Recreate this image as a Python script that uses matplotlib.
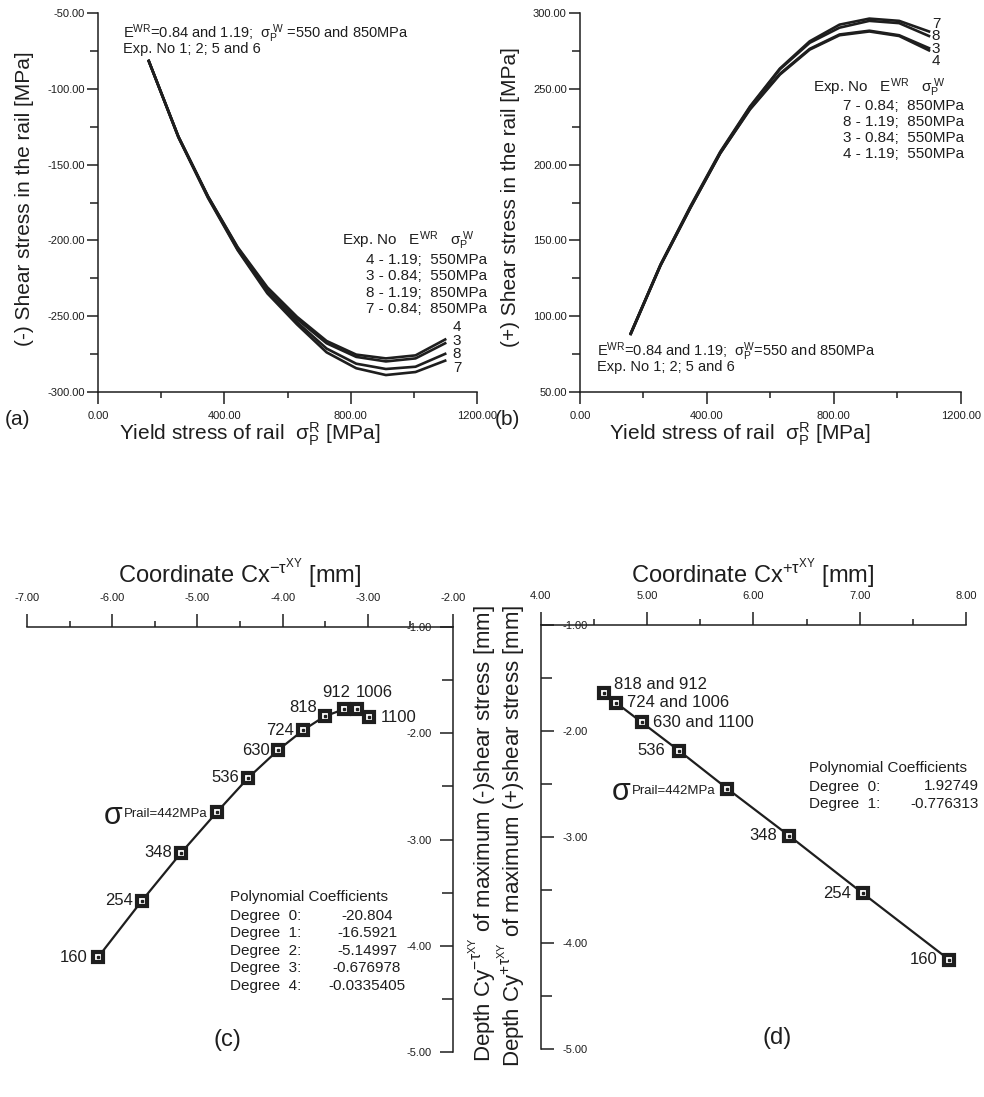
import matplotlib
matplotlib.use('Agg')
import matplotlib.pyplot as plt
from matplotlib.ticker import MultipleLocator, FormatStrFormatter

# ---------------- data ----------------
yield_stress = [160, 254, 348, 442, 536, 630, 724, 818, 912, 1006, 1100]

# (a) negative shear stress, Exp. No 4, 3, 8, 7
neg_exp4 = [-81.5, -131.5, -171.0, -204.5, -231.0, -250.5, -266.5, -275.5, -278.0, -276.0, -265.5]
neg_exp3 = [-81.5, -131.5, -171.0, -205.0, -232.0, -252.0, -268.0, -277.0, -280.0, -278.0, -268.0]
neg_exp8 = [-81.5, -131.5, -171.5, -206.0, -234.0, -254.0, -271.5, -281.5, -285.0, -283.5, -275.0]
neg_exp7 = [-81.5, -132.0, -172.0, -206.5, -235.0, -255.5, -274.0, -284.5, -289.0, -287.0, -279.5]

# (b) positive shear stress, Exp. No 7, 8, 3, 4
pos_exp7 = [88.5, 134.0, 172.5, 208.5, 238.5, 263.5, 281.5, 292.5, 296.5, 295.0, 288.0]
pos_exp8 = [88.5, 134.0, 172.0, 208.0, 238.0, 263.0, 280.5, 290.5, 295.0, 293.5, 285.0]
pos_exp3 = [88.5, 133.5, 171.5, 207.5, 237.0, 260.0, 276.5, 286.0, 288.5, 285.5, 277.0]
pos_exp4 = [88.0, 133.5, 171.5, 207.5, 236.5, 259.5, 276.0, 285.5, 288.0, 285.0, 275.5]

# (c) location of maximum (-) shear stress
cx_neg = [-6.168, -5.655, -5.196, -4.769, -4.404, -4.055, -3.757, -3.506, -3.278, -3.122, -2.984]
cy_neg = [-4.11, -3.58, -3.13, -2.74, -2.42, -2.16, -1.97, -1.84, -1.774, -1.774, -1.85]
labels_neg = ['160', '254', '348', '442', '536', '630', '724', '818', '912', '1006', '1100']
poly_neg = ['-20.804', '-16.5921', '-5.14997', '-0.676978', '-0.0335405']

# (d) location of maximum (+) shear stress
cx_pos = [7.844, 7.029, 6.339, 5.755, 5.301, 4.950, 4.708, 4.598]
cy_pos = [-4.160, -3.531, -2.990, -2.544, -2.186, -1.918, -1.733, -1.644]
labels_pos = ['160', '254', '348', '442', '536', '630 and 1100', '724 and 1006', '818 and 912']
poly_pos = ['1.92749', '-0.776313']

# ---------------- style ----------------
FONT = 'Liberation Sans'
plt.rcParams['font.family'] = [FONT, 'DejaVu Sans']
plt.rcParams['mathtext.fontset'] = 'custom'
plt.rcParams['mathtext.rm'] = FONT
plt.rcParams['mathtext.it'] = FONT
plt.rcParams['mathtext.sf'] = FONT
plt.rcParams['mathtext.default'] = 'regular'

INK = '#1e1e1e'
W, H = 984, 1097
fig = plt.figure(figsize=(W / 100, H / 100), dpi=100)
fig.patch.set_facecolor('white')


def rect(l, t, r, b):
    return [l / W, 1 - b / H, (r - l) / W, (b - t) / H]


def ftext(x, y, s, **kw):
    kw.setdefault('color', INK)
    return fig.text(x / W, 1 - y / H, s, **kw)


PT = 0.72  # px -> pt

# ---------------- (a) and (b) ----------------
ax = fig.add_axes(rect(98.3, 13.3, 476.7, 391.7))
for s in [neg_exp4, neg_exp3, neg_exp8, neg_exp7]:
    ax.plot(yield_stress, s, color=INK, lw=1.9)
ax.set_xlim(0, 1200)
ax.set_ylim(-300, -50)

axb = fig.add_axes(rect(580, 13.3, 960.7, 391.7))
for s in [pos_exp7, pos_exp8, pos_exp3, pos_exp4]:
    axb.plot(yield_stress, s, color=INK, lw=1.9)
axb.set_xlim(0, 1200)
axb.set_ylim(50, 300)

for a in (ax, axb):
    a.set_facecolor('none')
    a.xaxis.set_major_locator(MultipleLocator(400))
    a.xaxis.set_minor_locator(MultipleLocator(200))
    a.yaxis.set_major_locator(MultipleLocator(50))
    a.yaxis.set_minor_locator(MultipleLocator(25))
    for sp in ('top', 'right'):
        a.spines[sp].set_visible(False)
    for sp in ('left', 'bottom'):
        a.spines[sp].set_linewidth(1.1)
        a.spines[sp].set_color(INK)
    a.xaxis.set_major_formatter(FormatStrFormatter('%.2f'))
    a.yaxis.set_major_formatter(FormatStrFormatter('%.2f'))
    a.tick_params(axis='x', which='major', direction='out', length=8.5, width=1.1,
                  pad=5.5, labelsize=8, colors=INK)
    a.tick_params(axis='x', which='minor', direction='out', length=4, width=1.1, colors=INK)
    a.tick_params(axis='y', which='major', direction='out', length=8, width=1.1,
                  pad=1.5, labelsize=8, colors=INK)
    a.tick_params(axis='y', which='minor', direction='out', length=6, width=1.1, colors=INK)

# (a) annotations
ftext(123, 39, 'E$^{WR}$=0.84 and 1.19;  $\\sigma_P^{\\ W}$ =550 and 850MPa\nExp. No 1; 2; 5 and 6',
      fontsize=10.5, va='center', linespacing=0.75)
ftext(342, 241, r'Exp. No   E$^{WR}$   $\sigma_P^{\ W}$', fontsize=11, va='center')
ftext(487, 284.5, '4 - 1.19;  550MPa\n3 - 0.84;  550MPa\n8 - 1.19;  850MPa\n7 - 0.84;  850MPa',
      fontsize=11, va='center', ha='right', multialignment='right', linespacing=1.2)
ftext(457, 347.5, '4\n3\n8\n7', fontsize=11, va='center', ha='center', linespacing=0.95)
ftext(25, 199, '(-) Shear stress in the rail [MPa]', fontsize=15, rotation=90, va='center', ha='center')
ftext(250, 434, r'Yield stress of rail  $\sigma_P^R$ [MPa]', fontsize=15, va='center', ha='center')
ftext(18, 420, '(a)', fontsize=15, va='center', ha='center')

# (b) annotations
ftext(597, 357, 'E$^{WR}$=0.84 and 1.19;  $\\sigma_P^{W}$=550 and 850MPa\nExp. No 1; 2; 5 and 6',
      fontsize=10.5, va='center', linespacing=0.75)
ftext(813, 88, r'Exp. No   E$^{WR}$   $\sigma_P^{\ W}$', fontsize=11, va='center')
ftext(964, 130, '7 - 0.84;  850MPa\n8 - 1.19;  850MPa\n3 - 0.84;  550MPa\n4 - 1.19;  550MPa',
      fontsize=11, va='center', ha='right', multialignment='right', linespacing=1.2)
ftext(936, 42.5, '7\n8\n3\n4', fontsize=11, va='center', ha='center', linespacing=0.87)
ftext(511, 197, '(+) Shear stress in the rail [MPa]', fontsize=15, rotation=90, va='center', ha='center')
ftext(740, 434, r'Yield stress of rail  $\sigma_P^R$ [MPa]', fontsize=15, va='center', ha='center')
ftext(507, 420, '(b)', fontsize=15, va='center', ha='center')

# ---------------- (c) and (d) ----------------
axc = fig.add_axes(rect(27, 627, 453, 1052))
axc.plot(cx_neg, cy_neg, color=INK, lw=1.6, marker='s', ms=7.5, mfc='white', mec=INK, mew=3,
         clip_on=False, zorder=3)
axc.plot(cx_neg, cy_neg, ls='none', marker='s', ms=1.6, color=INK, clip_on=False, zorder=4)
axc.set_xlim(-7, -2)
axc.set_ylim(-5, -1)
axc.spines['left'].set_position(('axes', 1.0))
axc.spines['right'].set_visible(False)
axc.spines['bottom'].set_visible(False)
axc.xaxis.set_ticks_position('top')
axc.yaxis.set_ticks_position('left')

axd = fig.add_axes(rect(540.7, 625, 966, 1049))
axd.plot(cx_pos, cy_pos, color=INK, lw=1.6, marker='s', ms=7.5, mfc='white', mec=INK, mew=3,
         clip_on=False, zorder=3)
axd.plot(cx_pos, cy_pos, ls='none', marker='s', ms=1.6, color=INK, clip_on=False, zorder=4)
axd.set_xlim(4, 8)
axd.set_ylim(-5, -1)
axd.spines['right'].set_position(('axes', 0.0))
axd.spines['left'].set_visible(False)
axd.spines['bottom'].set_visible(False)
axd.xaxis.set_ticks_position('top')
axd.yaxis.set_ticks_position('right')

for a in (axc, axd):
    a.set_facecolor('none')
    for sp in a.spines.values():
        sp.set_linewidth(1.1)
        sp.set_color(INK)
    a.xaxis.set_major_locator(MultipleLocator(1))
    a.xaxis.set_minor_locator(MultipleLocator(0.5))
    a.yaxis.set_major_locator(MultipleLocator(1))
    a.yaxis.set_minor_locator(MultipleLocator(0.5))
    a.xaxis.set_major_formatter(FormatStrFormatter('%.2f'))
    a.yaxis.set_major_formatter(FormatStrFormatter('%.2f'))
    a.tick_params(axis='x', which='major', direction='out', length=9.5, width=1.1,
                  pad=8, labelsize=8, colors=INK)
    a.tick_params(axis='x', which='minor', direction='out', length=4, width=1.1, colors=INK)
    a.tick_params(axis='y', which='major', direction='out', length=9.5, width=1.1,
                  pad=6, labelsize=8, colors=INK)
    a.tick_params(axis='y', which='minor', direction='out', length=8, width=1.1, colors=INK)

LBL = 12
off_neg = {'160': (-10, 0, 'right'), '254': (-9, 1, 'right'), '348': (-9, 1, 'right'),
           '536': (-9, 0, 'right'), '630': (-8, 0, 'right'), '724': (-9, 0, 'right'),
           '818': (-8, 9, 'right'), '912': (-8, 17, 'center'), '1006': (17, 17, 'center'),
           '1100': (12, 0, 'left')}
for x, y, lab in zip(cx_neg, cy_neg, labels_neg):
    if lab == '442':
        t = axc.annotate('Prail=442MPa', xy=(x, y), xytext=(-10 * PT, -2 * PT),
                         textcoords='offset points', ha='right', va='center', fontsize=9.5, color=INK)
        axc.annotate(r'$\sigma$', xy=(0, 0.35), xycoords=t, ha='right', va='center',
                     fontsize=22, color=INK)
        continue
    dx, dy, ha = off_neg[lab]
    axc.annotate(lab, xy=(x, y), xytext=(dx * PT, dy * PT), textcoords='offset points',
                 ha=ha, va='center', fontsize=LBL, color=INK)

off_pos = {'160': (-12, 0, 'right'), '254': (-12, 0, 'right'), '348': (-12, 0, 'right'),
           '536': (-14, 0, 'right'), '630 and 1100': (11, 0, 'left'),
           '724 and 1006': (11, 0, 'left'), '818 and 912': (10, 9, 'left')}
for x, y, lab in zip(cx_pos, cy_pos, labels_pos):
    if lab == '442':
        t = axd.annotate('Prail=442MPa', xy=(x, y), xytext=(-12 * PT, -2 * PT),
                         textcoords='offset points', ha='right', va='center', fontsize=9.5, color=INK)
        axd.annotate(r'$\sigma$', xy=(0, 0.35), xycoords=t, ha='right', va='center',
                     fontsize=22, color=INK)
        continue
    dx, dy, ha = off_pos[lab]
    axd.annotate(lab, xy=(x, y), xytext=(dx * PT, dy * PT), textcoords='offset points',
                 ha=ha, va='center', fontsize=LBL, color=INK)

# polynomial coefficient boxes
ftext(230, 897, 'Polynomial Coefficients', fontsize=11, va='center')
for i, v in enumerate(poly_neg):
    yy = 916 + i * 17.4
    ftext(230, yy, 'Degree  %d:' % i, fontsize=11, va='center')
    ftext(367, yy, v, fontsize=11, va='center', ha='center')

ftext(809, 768, 'Polynomial Coefficients', fontsize=11, va='center')
for i, v in enumerate(poly_pos):
    yy = 786.5 + i * 17.7
    ftext(809, yy, 'Degree  %d:' % i, fontsize=11, va='center')
    ftext(979, yy, v, fontsize=11, va='center', ha='right')

# titles / labels
ftext(240, 574, r'Coordinate Cx$^{-\tau^{XY}}$ [mm]', fontsize=17, va='center', ha='center')
ftext(753, 574, r'Coordinate Cx$^{+\tau^{XY}}$ [mm]', fontsize=17, va='center', ha='center')
ftext(227, 1040, '(c)', fontsize=17, va='center', ha='center')
ftext(777, 1038, '(d)', fontsize=17, va='center', ha='center')
ftext(482, 605, r'Depth Cy$^{-\tau^{XY}}$ of maximum (-)shear stress [mm]', fontsize=16,
      rotation=90, va='top', ha='center')
ftext(511, 605, r'Depth Cy$^{+\tau^{XY}}$ of maximum (+)shear stress [mm]', fontsize=16,
      rotation=90, va='top', ha='center')

fig.savefig('out.png', dpi=100, facecolor='white')
